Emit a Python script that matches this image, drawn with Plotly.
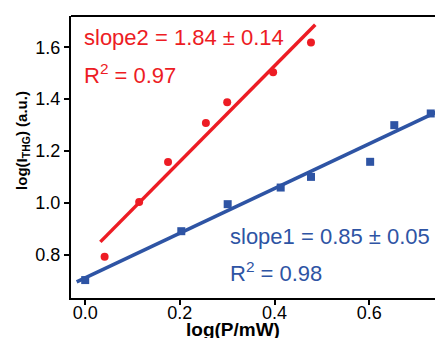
import plotly.graph_objects as go

# Data
red_x = [0.041, 0.114, 0.175, 0.255, 0.300, 0.397, 0.477]
red_y = [0.794, 1.004, 1.158, 1.308, 1.388, 1.504, 1.618]
red_fit_x = [0.032, 0.486]
red_fit_y = [0.851, 1.686]

blue_x = [0.000, 0.203, 0.301, 0.413, 0.477, 0.602, 0.653, 0.730]
blue_y = [0.704, 0.892, 0.996, 1.060, 1.101, 1.159, 1.300, 1.345]
blue_fit_x = [-0.018, 0.76]
blue_fit_y = [0.697, 1.366]

x_ticks = [0.0, 0.2, 0.4, 0.6]
y_ticks = [0.8, 1.0, 1.2, 1.4, 1.6]

RED = "#ED1C24"
BLUE = "#2E54A4"
FONT = "Liberation Sans, Arial, sans-serif"

fig = go.Figure()
fig.add_trace(go.Scatter(x=red_fit_x, y=red_fit_y, mode="lines",
                         line=dict(color=RED, width=3.5), showlegend=False))
fig.add_trace(go.Scatter(x=blue_fit_x, y=blue_fit_y, mode="lines",
                         line=dict(color=BLUE, width=3.5), showlegend=False))
fig.add_trace(go.Scatter(x=red_x, y=red_y, mode="markers",
                         marker=dict(color=RED, size=8, symbol="circle"), showlegend=False))
fig.add_trace(go.Scatter(x=blue_x, y=blue_y, mode="markers",
                         marker=dict(color=BLUE, size=8, symbol="square"), showlegend=False))

ann_font = 22
fig.add_annotation(xref="paper", yref="paper", x=0.030, y=0.925, xanchor="left", yanchor="middle",
                   text="slope2 = 1.84 ± 0.14", showarrow=False,
                   font=dict(color=RED, size=ann_font, family=FONT))
fig.add_annotation(xref="paper", yref="paper", x=0.030, y=0.793, xanchor="left", yanchor="middle",
                   text="R<sup>2</sup> = 0.97", showarrow=False,
                   font=dict(color=RED, size=ann_font, family=FONT))
fig.add_annotation(xref="paper", yref="paper", x=0.431, y=0.218, xanchor="left", yanchor="middle",
                   text="slope1 = 0.85 ± 0.05", showarrow=False,
                   font=dict(color=BLUE, size=ann_font, family=FONT))
fig.add_annotation(xref="paper", yref="paper", x=0.431, y=0.091, xanchor="left", yanchor="middle",
                   text="R<sup>2</sup> = 0.98", showarrow=False,
                   font=dict(color=BLUE, size=ann_font, family=FONT))

# axis titles
fig.add_annotation(xref="paper", yref="paper", x=0.445, y=-0.113, xanchor="center", yanchor="middle",
                   text="<b>log(P/mW)</b>", showarrow=False,
                   font=dict(color="black", size=19, family=FONT))
fig.add_annotation(xref="paper", yref="paper", x=-0.135, y=0.56, xanchor="center", yanchor="middle",
                   text="<b>log(I<sub>THG</sub>) (a.u.)</b>", showarrow=False, textangle=-90,
                   font=dict(color="black", size=15, family=FONT))

fig.update_layout(
    width=435, height=338,
    margin=dict(l=71, r=0, t=16, b=40, autoexpand=False),
    plot_bgcolor="white", paper_bgcolor="white",
    font=dict(family=FONT, color="black", size=18),
    xaxis=dict(range=[-0.03, 0.739], tickvals=x_ticks, tickformat=".1f", automargin=False,
               showgrid=False, zeroline=False, showline=True, linecolor="black", linewidth=2,
               ticks="outside", ticklen=5, tickwidth=1.5, tickcolor="black",
               ticklabelstandoff=-8),
    yaxis=dict(range=[0.635, 1.72], tickvals=y_ticks, tickformat=".1f", automargin=False,
               showgrid=False, zeroline=False, showline=True, linecolor="black", linewidth=2,
               ticks="outside", ticklen=5, tickwidth=1.5, tickcolor="black"),
)
fig.add_shape(type="line", xref="paper", yref="paper", x0=0, x1=1, y0=1, y1=1,
              line=dict(color="black", width=2))

fig.write_html("out.html", config={"displayModeBar": False},
               post_script="document.body.style.margin='0px';")
